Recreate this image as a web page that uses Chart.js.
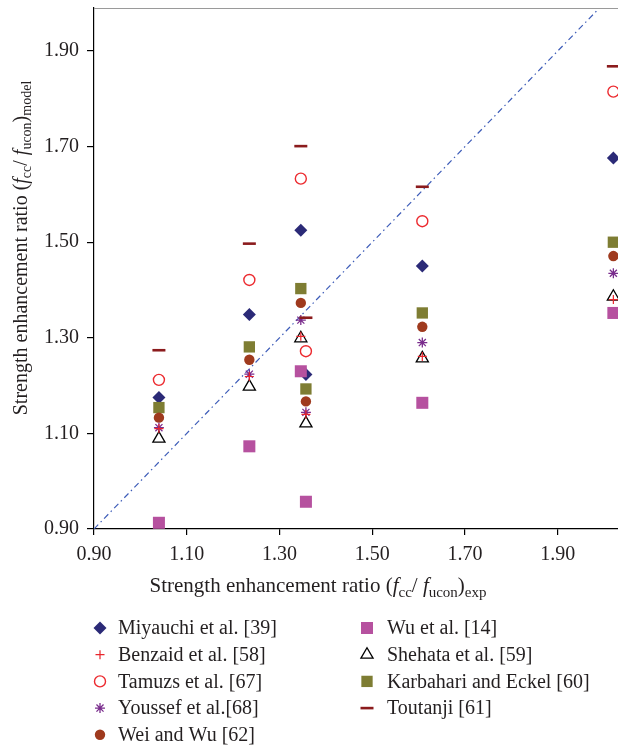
<!DOCTYPE html>
<html>
<head>
<meta charset="utf-8">
<script src="https://cdn.jsdelivr.net/npm/chart.js@4.4.1/dist/chart.umd.min.js"></script>
<style>
  html, body { margin: 0; padding: 0; background: #fff; }
  #wrap { width: 618px; height: 748px; position: relative; }
</style>
</head>
<body>
<div id="wrap"><canvas id="ratioChart"></canvas></div>
<script>
// experimental strength enhancement ratio of each specimen group
const expRatio = [1.04, 1.235, 1.346, 1.357, 1.608, 2.02];

// predicted ratio for each model, same order as expRatio
const miyauchi  = [1.175, 1.349, 1.525, 1.223, 1.450, 1.676];
const benzaid   = [1.110, 1.219, 1.303, 1.140, 1.261, 1.380];
const tamuzs    = [1.212, 1.421, 1.633, 1.272, 1.544, 1.815];
const youssef   = [1.112, 1.224, 1.337, 1.144, 1.290, 1.435];
const weiWu     = [1.133, 1.254, 1.373, 1.167, 1.323, 1.471];
const wu        = [0.913, 1.073, 1.230, 0.957, 1.164, 1.352];
const shehata   = [1.089, 1.198, 1.299, 1.121, 1.257, 1.386];
const karbahari = [1.154, 1.281, 1.403, 1.193, 1.352, 1.500];
const toutanji  = [1.274, 1.497, 1.701, 1.342, 1.616, 1.868];

const seriesNames = [
  "Miyauchi et al. [39]", "Benzaid et al. [58]", "Tamuzs et al. [67]",
  "Youssef et al.[68]", "Wei and Wu [62]", "Wu et al. [14]",
  "Shehata et al. [59]", "Karbahari and Eckel [60]", "Toutanji [61]"
];
const seriesValues = [miyauchi, benzaid, tamuzs, youssef, weiWu, wu, shehata, karbahari, toutanji];

const xTicks = [0.9, 1.1, 1.3, 1.5, 1.7, 1.9];
const yTicks = [0.9, 1.1, 1.3, 1.5, 1.7, 1.9];
const equalityLine = [0.9, 2.1];

const FONT = '"Liberation Serif", "Times New Roman", serif';
const TEXT = "#231f20";

// marker look per model (z: higher is painted later)
const markers = [
  { style: "rectRot",  r: 6.5, fill: "#2b2a77", line: "#2b2a77", w: 0,   z: 2 },
  { style: "cross",    r: 4.5, fill: "#e8262c", line: "#e8262c", w: 1.2, z: 8 },
  { style: "circle",   r: 5.5, fill: "rgba(0,0,0,0)", line: "#ec2a2f", w: 1.4, z: 1 },
  { style: "star",     r: 5,   fill: "#7a2d8d", line: "#7a2d8d", w: 1.3, z: 6 },
  { style: "circle",   r: 5.2, fill: "#9f3a1e", line: "#9f3a1e", w: 0,   z: 4 },
  { style: "rect",     r: 8.5, fill: "#b6519f", line: "#b6519f", w: 0,   z: 5 },
  { style: "triangle", r: 7,   fill: "rgba(0,0,0,0)", line: "#000000", w: 1.3, z: 7 },
  { style: "rect",     r: 8,   fill: "#7e7d33", line: "#7e7d33", w: 0,   z: 3 },
  { style: "line",     r: 6.5, fill: "#8b1b1d", line: "#8b1b1d", w: 2.6, z: 9 }
];

const datasets = seriesNames.map((name, i) => ({
  type: "scatter",
  label: name,
  data: expRatio.map((x, j) => ({ x: x, y: seriesValues[i][j] })),
  pointStyle: markers[i].style,
  pointRadius: markers[i].r,
  pointHoverRadius: markers[i].r,
  pointBackgroundColor: markers[i].fill,
  pointBorderColor: markers[i].line,
  pointBorderWidth: markers[i].w,
  order: 20 - markers[i].z
}));

datasets.push({
  type: "line",
  label: "equality",
  data: equalityLine.map(v => ({ x: v, y: v })),
  borderColor: "#3d5cb8",
  borderWidth: 1.2,
  borderDash: [6, 3.5, 1.5, 3.5],
  pointRadius: 0,
  fill: false,
  order: 30
});

// draws a string made of several font runs (italics, subscripts)
function drawRuns(ctx, runs, x, y) {
  let total = 0;
  runs.forEach(r => { ctx.font = r.font; total += ctx.measureText(r.t).width; });
  let cx = x - total / 2;
  runs.forEach(r => {
    ctx.font = r.font;
    ctx.fillText(r.t, cx, y + (r.dy || 0));
    cx += ctx.measureText(r.t).width;
  });
}

function titleRuns(size, subText) {
  const main = size + "px " + FONT;
  const ital = "italic " + size + "px " + FONT;
  const sub = Math.round(size * 0.7) + "px " + FONT;
  const d = Math.round(size * 0.22);
  return [
    { t: "Strength enhancement ratio (", font: main },
    { t: "f", font: ital },
    { t: "cc", font: sub, dy: d },
    { t: "/ ", font: main },
    { t: "f", font: ital },
    { t: "ucon", font: sub, dy: d },
    { t: ")", font: main },
    { t: subText, font: sub, dy: d }
  ];
}

const decorations = {
  id: "decorations",
  afterDraw(chart) {
    const ctx = chart.ctx;
    const area = chart.chartArea;
    ctx.save();

    // thin frame line along the top
    ctx.strokeStyle = "#9a9a9a";
    ctx.lineWidth = 1;
    ctx.beginPath();
    ctx.moveTo(area.left, area.top + 0.5);
    ctx.lineTo(area.right, area.top + 0.5);
    ctx.stroke();

    // axis titles
    ctx.fillStyle = TEXT;
    ctx.textBaseline = "alphabetic";
    drawRuns(ctx, titleRuns(21, "exp"), 318, 592);
    ctx.save();
    ctx.translate(27, 248);
    ctx.rotate(-Math.PI / 2);
    drawRuns(ctx, titleRuns(20, "model"), 0, 0);
    ctx.restore();

    // legend in two columns
    const cols = [{ mx: 100, tx: 118 }, { mx: 367, tx: 387 }];
    const top = 628, rowH = 26.7;
    ctx.textBaseline = "middle";
    ctx.font = "20px " + FONT;
    seriesNames.forEach((name, i) => {
      const col = cols[i < 5 ? 0 : 1];
      const y = top + (i < 5 ? i : i - 5) * rowH;
      const m = markers[i];
      ctx.fillStyle = m.fill;
      ctx.strokeStyle = m.line;
      ctx.lineWidth = m.w;
      Chart.helpers.drawPoint(ctx, { pointStyle: m.style, radius: m.r, borderWidth: m.w, rotation: 0 }, col.mx, y);
      ctx.fillStyle = TEXT;
      ctx.fillText(name, col.tx, y + 1);
    });
    ctx.restore();
  }
};

new Chart(document.getElementById("ratioChart"), {
  type: "scatter",
  data: { datasets: datasets },
  plugins: [decorations],
  options: {
    responsive: true,
    maintainAspectRatio: false,
    animation: false,
    events: [],
    layout: { autoPadding: false, padding: { top: 8, right: 0, bottom: 0, left: 0 } },
    plugins: { legend: { display: false }, tooltip: { enabled: false } },
    scales: {
      x: {
        type: "linear",
        min: 0.9,
        max: 2.03,
        afterBuildTicks: s => { s.ticks = xTicks.map(v => ({ value: v })); },
        afterFit: s => { s.height = 219; s.paddingLeft = 0; s.paddingRight = 0; },
        border: { color: "#000", width: 1.2 },
        grid: { drawOnChartArea: false, color: "#000", tickLength: 6, lineWidth: 1.2 },
        ticks: { color: TEXT, padding: 8, font: { family: FONT, size: 20 }, callback: v => v.toFixed(2) }
      },
      y: {
        type: "linear",
        min: 0.9,
        max: 1.99,
        afterBuildTicks: s => { s.ticks = yTicks.map(v => ({ value: v })); },
        afterFit: s => { s.width = 94; s.paddingTop = 0; s.paddingBottom = 0; },
        border: { color: "#000", width: 1.2 },
        grid: { drawOnChartArea: false, color: "#000", tickLength: 7, lineWidth: 1.2 },
        ticks: { color: TEXT, padding: 8, font: { family: FONT, size: 20 }, callback: v => v.toFixed(2) }
      }
    }
  }
});
</script>
</body>
</html>
